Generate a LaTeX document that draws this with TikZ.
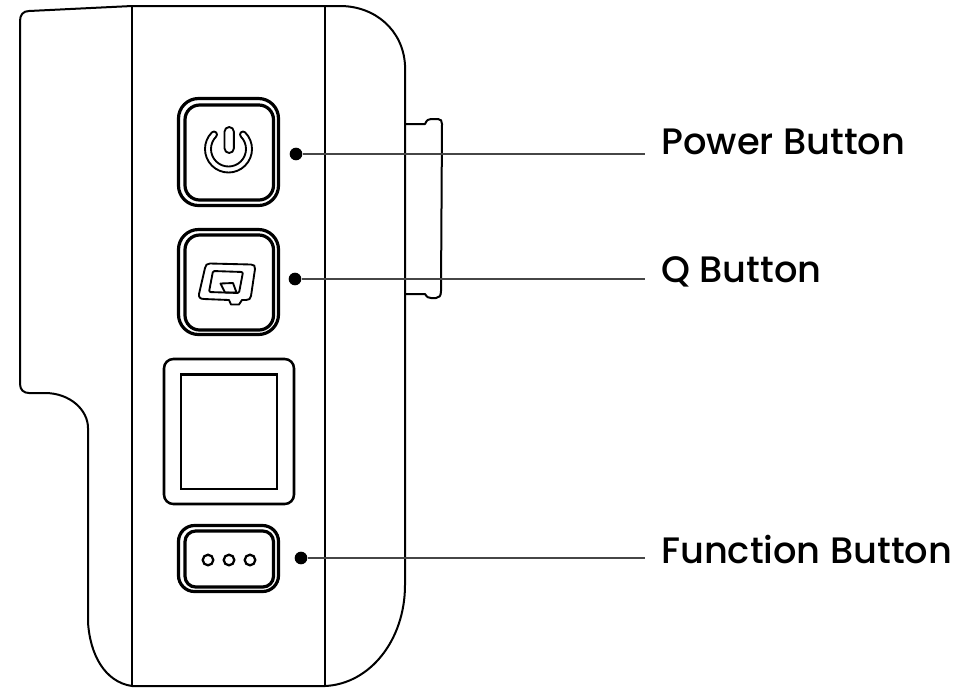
\documentclass[tikz,border=0pt]{standalone}
\usepackage{fontspec}
\setmainfont{Poppins Medium}
\usetikzlibrary{positioning}
\definecolor{leadergray}{RGB}{70,70,70}
\tikzset{
  bodyline/.style={line width=1.5pt,black,line join=round},
  divider/.style={line width=1.9pt,black},
  thinline/.style={line width=1.4pt,black,line join=round},
  buttonline/.style={line width=2.4pt,black,rounded corners=15pt},
  dotmark/.style={circle,fill=black,inner sep=0pt,minimum size=9.5pt},
  leader/.style={line width=1pt,leadergray},
  calllabel/.style={anchor=west,inner ysep=0pt,inner xsep=12pt,font=\fontsize{27.6}{32}\selectfont}
}
\begin{document}
\begin{tikzpicture}[x=0.75pt,y=-0.75pt]
\useasboundingbox (0,0) rectangle (970,687);
% Camera body outline
\draw[bodyline] (132,6) -- (29,11) .. controls (23,11) and (20,15) .. (20,21)
  -- (20,384) .. controls (20,390) and (24,393) .. (29,393) -- (45,393)
  .. controls (70,393) and (88,410) .. (88,428) -- (88,622)
  .. controls (90,655) and (105,682) .. (132,686) -- (325,686)
  .. controls (370,684) and (405,640) .. (405,585) -- (405,65)
  .. controls (403,30) and (375,6) .. (340,6) -- cycle;
\draw[divider] (132,6) -- (132,686);
\draw[divider] (325,6) -- (325,686);
% Side tab
\draw[bodyline] (405,124) -- (425,124) .. controls (427,120) and (428,119) .. (431,119) -- (438,119)
  .. controls (441,119) and (442,121) .. (442,124) -- (441,291)
  .. controls (441,296) and (439,298) .. (436,298) -- (431,298)
  .. controls (428,298) and (427,297) .. (425,294) -- (405,294);
% Power button
\draw[buttonline] (178.5,98.5) rectangle (278.5,205.5);
\draw[buttonline,rounded corners=11pt] (185,105) rectangle (273.5,200);
\draw[thinline] (224.5,131.7) arc[start angle=180,end angle=360,radius=4.7] -- (233.9,148.3)
  arc[start angle=0,end angle=180,radius=4.7] -- cycle;
\draw[thinline] (228.5,149) ++(225:23.5) arc[start angle=225,end angle=-45,radius=23.5]
  arc[start angle=-45,end angle=-225,radius=3]
  arc[start angle=-45,end angle=225,radius=17.5]
  arc[start angle=45,end angle=-135,radius=3] -- cycle;
% Q button
\draw[buttonline] (178.5,229.5) rectangle (278.5,334.5);
\draw[buttonline,rounded corners=11pt] (185,235) rectangle (273.5,330);
\draw[thinline] (210,263.5) -- (251,264.5) .. controls (254,264.5) and (255.5,266) .. (255,269)
  -- (251,296) .. controls (250.5,299) and (249,300) .. (246,300) -- (242,300) -- (239,304.5) -- (231,304.5) -- (229,300)
  -- (204,299) .. controls (200,299) and (198.5,297) .. (199,294) -- (205,268) .. controls (205.5,265) and (207,263.5) .. (210,263.5) -- cycle;
\draw[thinline,rounded corners=1pt] (213,271) -- (243,272) -- (239,293) -- (209,292) -- cycle;
\draw[thinline] (220.5,283.5) -- (233,283) -- (236.5,292.5) -- (225,292.5) -- cycle;
% Screen
\draw[divider,rounded corners=7pt] (164,359) rectangle (294,504);
\draw[divider] (181,374.5) rectangle (277,489);
% Function button
\draw[buttonline,rounded corners=12pt] (178.5,525.5) rectangle (278.5,591.5);
\draw[buttonline,rounded corners=8pt] (185,531) rectangle (273.5,587);
\foreach \xdot in {208,229,250}
  \draw[line width=1.7pt] (\xdot,560) circle (5.3);
% Dots and labels
\node[dotmark] (powerdot) at (296,154) {};
\node[dotmark] (qdot) at (295,279) {};
\node[dotmark] (funcdot) at (301,558) {};
\node[calllabel] (powerlabel) at (645,142) {Power Button};
\node[calllabel] (qlabel) at (645,272) {Q Button};
\node[calllabel] (funclabel) at (645,549) {Function Button};
\draw[leader] (powerdot) -- (powerdot -| powerlabel.west);
\draw[leader] (qdot) -- (qdot -| qlabel.west);
\draw[leader] (funcdot) -- (funcdot -| funclabel.west);
\end{tikzpicture}
\end{document}
